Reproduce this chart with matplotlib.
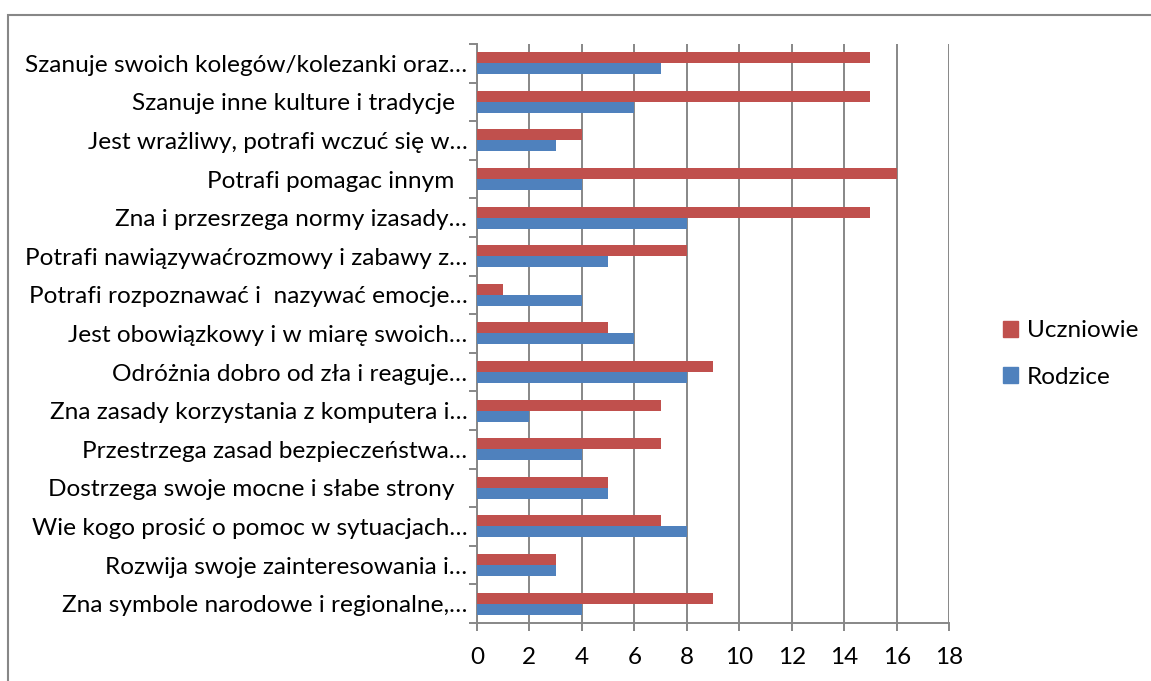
import matplotlib.pyplot as plt
import matplotlib.patches as mpatches
import numpy as np

categories = [
    "Szanuje swoich kolegów/kolezanki oraz…",
    "Szanuje inne kulture i tradycje  ",
    "Jest wrażliwy, potrafi wczuć się w…",
    "Potrafi pomagac innym  ",
    "Zna i przesrzega normy izasady…",
    "Potrafi nawiązywaćrozmowy i zabawy z…",
    "Potrafi rozpoznawać i  nazywać emocje…",
    "Jest obowiązkowy i w miarę swoich…",
    "Odróżnia dobro od zła i reaguje…",
    "Zna zasady korzystania z komputera i…",
    "Przestrzega zasad bezpieczeństwa…",
    "Dostrzega swoje mocne i słabe strony  ",
    "Wie kogo prosić o pomoc w sytuacjach…",
    "Rozwija swoje zainteresowania i…",
    "Zna symbole narodowe i regionalne,…",
]
uczniowie = [15, 15, 4, 16, 15, 8, 1, 5, 9, 7, 7, 5, 7, 3, 9]
rodzice = [7, 6, 3, 4, 8, 5, 4, 6, 8, 2, 4, 5, 8, 3, 4]
x_ticks = list(range(0, 19, 2))

RED = "#C0504D"
BLUE = "#4F81BD"
GRID = "#878787"

plt.rcParams["font.family"] = ["Lato", "DejaVu Sans"]

fig = plt.figure(figsize=(11.51, 6.81), dpi=100)
ax = fig.add_axes([0.4144, 0.0852, 0.4102, 0.8502])

n = len(categories)
y = np.arange(n)[::-1]
h = 0.285
ax.barh(y + h / 2, uczniowie, height=h, color=RED, label="Uczniowie", zorder=3)
ax.barh(y - h / 2, rodzice, height=h, color=BLUE, label="Rodzice", zorder=3)

ax.set_xlim(0, 18)
ax.set_ylim(-0.5, n - 0.5)
ax.set_xticks(x_ticks)
ax.set_xticklabels([str(t) for t in x_ticks], fontsize=17.5)
ax.set_yticks(y)
ax.set_yticklabels(categories, fontsize=17.6)
ax.set_yticks(np.arange(-0.5, n, 1.0), minor=True)

ax.tick_params(axis="y", which="major", length=0, pad=7)
ax.tick_params(axis="y", which="minor", length=6, color=GRID, width=1.4)
ax.tick_params(axis="x", which="major", length=6, color=GRID, width=1.4, pad=11.5)

ax.grid(axis="x", color=GRID, linewidth=1.4, zorder=0)
for s in ["top", "right"]:
    ax.spines[s].set_visible(False)
for s in ["left", "bottom"]:
    ax.spines[s].set_color(GRID)
    ax.spines[s].set_linewidth(1.4)

handles = [
    mpatches.Patch(color=RED, label="Uczniowie"),
    mpatches.Patch(color=BLUE, label="Rodzice"),
]
fig.legend(
    handles=handles,
    loc="center left",
    bbox_to_anchor=(0.852, 0.48),
    frameon=False,
    fontsize=17.5,
    handlelength=0.65,
    handleheight=0.65,
    handletextpad=0.35,
    labelspacing=1.05,
)

# outer chart border (cropped on right/bottom)
fig.patches.append(
    mpatches.Rectangle(
        (0.007, -0.1), 1.2, 1.078,
        transform=fig.transFigure, fill=False, edgecolor=GRID, linewidth=1.5,
    )
)

fig.savefig("out.png", dpi=100)
